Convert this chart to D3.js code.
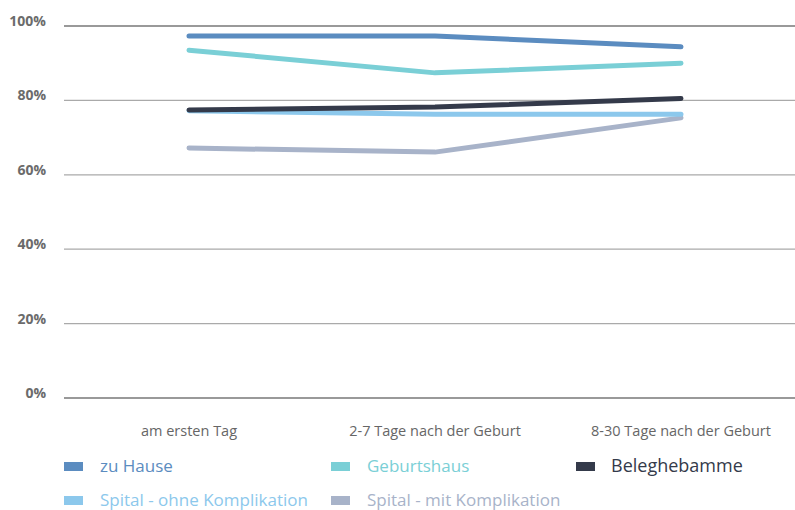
<!DOCTYPE html>
<html><head><meta charset="utf-8">
<script src="https://cdn.jsdelivr.net/npm/d3@7"></script>
<style>body{margin:0;background:#fff}svg{display:block;font-family:"Open Sans",Lato,sans-serif}</style>
</head><body><svg id="c" width="795" height="510"></svg>
<script>
const categories = ["am ersten Tag","2-7 Tage nach der Geburt","8-30 Tage nach der Geburt"];
const seriesNames = ["zu Hause","Geburtshaus","Beleghebamme","Spital - ohne Komplikation","Spital - mit Komplikation"];
const zuHause = [97.3, 97.3, 94.4];
const geburtshaus = [93.5, 87.4, 90.0];
const beleghebamme = [77.4, 78.2, 80.5];
const spitalOhne = [77.2, 76.3, 76.3];
const spitalMit = [67.2, 66.1, 75.3];
const yTicks = [0,20,40,60,80,100];
const colors = ["#5b8cc0","#7acfd6","#343a4a","#8cc8ec","#a8b3c9"];
const values = [zuHause, geburtshaus, beleghebamme, spitalOhne, spitalMit];

const svg = d3.select("#c");
const x = d3.scalePoint().domain(categories).range([189,681]);
const y = d3.scaleLinear().domain([0,100]).range([398,26]);

// grid
svg.append("g").selectAll("line").data(yTicks).join("line")
  .attr("x1",64).attr("x2",795)
  .attr("y1",d=>y(d)).attr("y2",d=>y(d))
  .attr("stroke",d=>(d===100||d===0)?"#999":"#aaa")
  .attr("stroke-width",d=>(d===100||d===0)?2:1.2);
svg.append("g").selectAll("text").data(yTicks).join("text")
  .attr("x",46).attr("y",d=>y(d)).attr("text-anchor","end")
  .attr("font-size",14).attr("font-weight","bold").attr("fill","#6b6b6b")
  .text(d=>d+"%");
svg.append("g").selectAll("text").data(categories).join("text")
  .attr("x",d=>x(d)).attr("y",436).attr("text-anchor","middle")
  .attr("font-size",14.5).attr("fill","#666").text(d=>d);

const line = d3.line().x((d,i)=>x(categories[i])).y(d=>y(d));
const order = [4,3,2,1,0];
svg.append("g").selectAll("path").data(order).join("path")
  .attr("d",i=>line(values[i])).attr("fill","none")
  .attr("stroke",i=>colors[i]).attr("stroke-width",5)
  .attr("stroke-linecap","round").attr("stroke-linejoin","round");

// legend
const legPos = [[64,466],[331,466],[576,466],[64,500],[331,500]];
const lg = svg.append("g").selectAll("g").data(seriesNames).join("g")
  .attr("transform",(d,i)=>`translate(${legPos[i][0]},${legPos[i][1]})`);
lg.append("rect").attr("x",0).attr("y",-4).attr("width",19).attr("height",9).attr("fill",(d,i)=>colors[i]);
lg.append("text").attr("x",(d,i)=>i===2?35:36).attr("y",6).attr("font-size",(d,i)=>i===2?18:17)
  .attr("fill",(d,i)=>colors[i]).text(d=>d);
</script></body></html>
